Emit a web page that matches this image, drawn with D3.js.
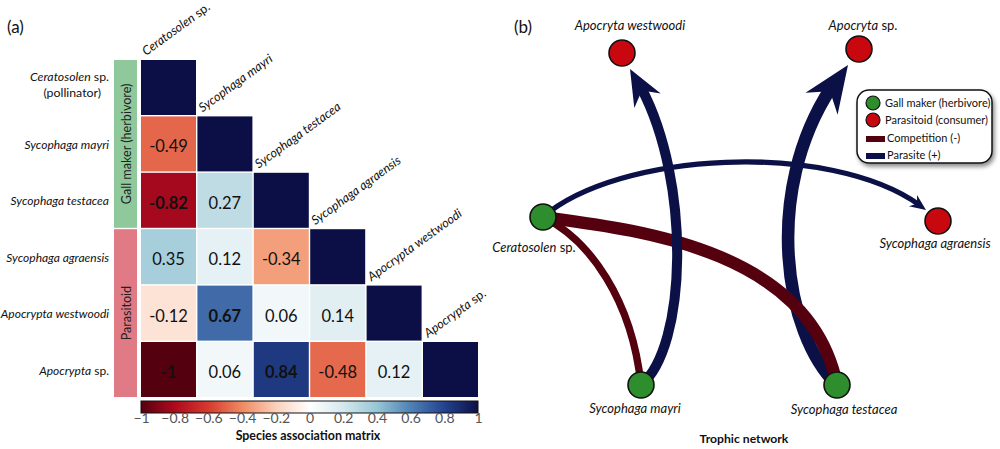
<!DOCTYPE html>
<html>
<head>
<meta charset="utf-8">
<script src="https://cdn.jsdelivr.net/npm/d3@7"></script>
<style>
  html, body { margin: 0; padding: 0; background: #fff; }
  svg { display: block; font-family: Lato, "Open Sans", sans-serif; }
</style>
</head>
<body>
<svg id="chart" width="1000" height="449"></svg>
<script>
"use strict";

// ---- data ----
const rowLabels = ["Ceratosolen sp.", "Sycophaga mayri", "Sycophaga testacea",
  "Sycophaga agraensis", "Apocrypta westwoodi", "Apocrypta sp."];
const colLabels = ["Ceratosolen sp.", "Sycophaga mayri", "Sycophaga testacea",
  "Sycophaga agraensis", "Apocrypta westwoodi", "Apocrypta sp."];
// lower triangle of the association matrix (diagonal = 1)
const assocRows = [
  [],
  [-0.49],
  [-0.82, 0.27],
  [0.35, 0.12, -0.34],
  [-0.12, 0.67, 0.06, 0.14],
  [-1, 0.06, 0.84, -0.48, 0.12]
];
const boldCells = [[2, 0], [4, 1], [5, 0], [5, 2]];
const groups = ["Gall maker (herbivore)", "Parasitoid"];
const groupRows = [[0, 2], [3, 5]];
const colorStops = [-1, -0.8, -0.6, -0.4, -0.2, 0, 0.2, 0.4, 0.6, 0.8, 1];
const colorRamp = ["#55000f", "#ad0a1e", "#d63a2e", "#ef8a62", "#fbd0ba", "#ffffff",
  "#d4e8ee", "#97c6d5", "#4f81b5", "#24438f", "#0b0f46"];
const cbTicks = [-1, -0.8, -0.6, -0.4, -0.2, 0, 0.2, 0.4, 0.6, 0.8, 1];

const netNodes = ["Apocryta westwoodi", "Apocryta sp.", "Ceratosolen sp.",
  "Sycophaga agraensis", "Sycophaga mayri", "Sycophaga testacea"];
const netNodeType = ["parasitoid", "parasitoid", "gall", "parasitoid", "gall", "gall"];
const edgeSource = ["Sycophaga testacea", "Ceratosolen sp.", "Ceratosolen sp.", "Sycophaga mayri", "Ceratosolen sp."];
const edgeTarget = ["Apocryta sp.", "Sycophaga testacea", "Sycophaga mayri", "Apocryta westwoodi", "Sycophaga agraensis"];
const edgeValue = [0.84, -0.82, -0.49, 0.67, 0.35];
const legendLabels = ["Gall maker (herbivore)", "Parasitoid (consumer)", "Competition (-)", "Parasite (+)"];

// ---- styles / layout ----
const NAVY = "#0b1146", MAROON = "#55000f", GREEN = "#2e8e2e", RED = "#c8070f";
const FS = 12; // species label size
const svg = d3.select("#chart");

function speciesText(sel, label) {
  // genus/species italic, "sp." upright
  if (label.endsWith(" sp.")) {
    sel.append("tspan").attr("font-style", "italic").text(label.slice(0, -4));
    sel.append("tspan").text(" sp.");
  } else {
    sel.append("tspan").attr("font-style", "italic").text(label);
  }
}

// ================= panel (a) =================
svg.append("text").attr("x", 7).attr("y", 33).attr("font-size", 17).attr("fill", "#111").text("(a)");

const x = d3.scaleBand().domain(d3.range(6)).range([141, 478]).paddingInner(0.025);
const y = d3.scaleBand().domain(d3.range(6)).range([60, 397]).paddingInner(0.025);
const color = d3.scaleLinear().domain(colorStops).range(colorRamp).interpolate(d3.interpolateRgb);

const cells = [];
assocRows.forEach((row, i) => {
  row.forEach((v, j) => cells.push({i, j, v, diag: false}));
  cells.push({i, j: i, v: 1, diag: true});
});
const isBold = d => boldCells.some(b => b[0] === d.i && b[1] === d.j);

const gm = svg.append("g");
gm.selectAll("rect.cell").data(cells).enter().append("rect")
  .attr("class", "cell")
  .attr("x", d => x(d.j)).attr("y", d => y(d.i))
  .attr("width", x.bandwidth()).attr("height", y.bandwidth())
  .attr("fill", d => color(d.v));

gm.selectAll("text.val").data(cells.filter(d => !d.diag)).enter().append("text")
  .attr("class", "val")
  .attr("x", d => x(d.j) + x.bandwidth() / 2)
  .attr("y", d => y(d.i) + y.bandwidth() / 2 + 8.5)
  .attr("text-anchor", "middle")
  .attr("font-size", 16.5)
  .attr("font-weight", d => isBold(d) ? "bold" : "normal")
  .attr("fill", "#111")
  .text(d => String(d.v));

// row labels
const rowX = 109;
rowLabels.forEach((lab, i) => {
  const cy = y(i) + y.bandwidth() / 2;
  if (i === 0) {
    const t = gm.append("text").attr("x", rowX).attr("y", cy - 6).attr("text-anchor", "end")
      .attr("font-size", FS + 0.3).attr("fill", "#111");
    speciesText(t, lab);
    gm.append("text").attr("x", rowX - 8).attr("y", cy + 10).attr("text-anchor", "end")
      .attr("font-size", FS + 0.3).attr("fill", "#111").text("(pollinator)");
  } else {
    const t = gm.append("text").attr("x", rowX).attr("y", cy + 5).attr("text-anchor", "end")
      .attr("font-size", FS).attr("fill", "#111");
    speciesText(t, lab);
  }
});

// column labels, rotated above the diagonal
colLabels.forEach((lab, j) => {
  const t = gm.append("text")
    .attr("transform", `translate(${x(j) + 5},${y(j) - 4}) rotate(-36)`)
    .attr("font-size", FS + 0.5).attr("fill", "#111");
  speciesText(t, lab);
});

// group bars
const groupFill = ["#8fc89a", "#e07b85"];
groups.forEach((g, k) => {
  const y0 = y(groupRows[k][0]), y1 = y(groupRows[k][1]) + y.bandwidth();
  gm.append("rect").attr("x", 114).attr("y", y0).attr("width", 23).attr("height", y1 - y0)
    .attr("fill", groupFill[k]);
  gm.append("text")
    .attr("transform", `translate(130.5,${(y0 + y1) / 2}) rotate(-90)`)
    .attr("text-anchor", "middle").attr("font-size", 12.6).attr("fill", "#222").text(g);
});

// colour bar
const cb = d3.scaleLinear().domain([-1, 1]).range([141, 478]);
const grad = svg.append("defs").append("linearGradient").attr("id", "cbgrad");
colorStops.forEach((s, k) => grad.append("stop")
  .attr("offset", (s + 1) / 2).attr("stop-color", colorRamp[k]));
svg.append("rect").attr("x", 141).attr("y", 401).attr("width", 337).attr("height", 12)
  .attr("fill", "url(#cbgrad)").attr("stroke", "#111").attr("stroke-width", 1);
const cbAxis = svg.append("g").attr("transform", "translate(0,408)")
  .call(d3.axisBottom(cb).tickValues(cbTicks).tickSize(0).tickPadding(5).tickFormat(d3.format("")));
cbAxis.select(".domain").remove();
cbAxis.selectAll("text").attr("font-size", 14).attr("fill", "#555")
  .attr("font-family", "Lato, sans-serif");
svg.append("text").attr("x", 308).attr("y", 440).attr("text-anchor", "middle")
  .attr("font-size", 12.4).attr("font-weight", "bold").attr("fill", "#111")
  .text("Species association matrix");

// ================= panel (b) =================
svg.append("text").attr("x", 514).attr("y", 33).attr("font-size", 17).attr("fill", "#111").text("(b)");

// node placement and label anchors
const nodeLayout = {
  "Apocryta westwoodi": {x: 622, y: 53, lx: 630, ly: 30},
  "Apocryta sp.": {x: 859, y: 49, lx: 863, ly: 30},
  "Ceratosolen sp.": {x: 543, y: 217, lx: 534, ly: 252},
  "Sycophaga agraensis": {x: 938, y: 221, lx: 935, ly: 248},
  "Sycophaga mayri": {x: 641, y: 385, lx: 635, ly: 413},
  "Sycophaga testacea": {x: 837, y: 385, lx: 844, ly: 414}
};
// cubic control points and arrow tip for each edge (same order as the edge arrays)
const edgeShape = [
  {c1: [780, 330], c2: [760, 170], end: [848, 65]},
  {c1: [640, 230], c2: [810, 250], end: [837, 385]},
  {c1: [590, 240], c2: [632, 300], end: [641, 385]},
  {c1: [690, 345], c2: [692, 160], end: [630, 69]},
  {c1: [620, 150], c2: [840, 140], end: [926, 210]}
];

const width = d3.scaleLinear().domain([0, 1]).range([0, 15]);
const lerp = (a, b, t) => [a[0] + (b[0] - a[0]) * t, a[1] + (b[1] - a[1]) * t];
function bez(p, t) {
  const a = lerp(p[0], p[1], t), b = lerp(p[1], p[2], t), c = lerp(p[2], p[3], t);
  const d = lerp(a, b, t), e = lerp(b, c, t);
  return {pt: lerp(d, e, t), first: [p[0], a, d, lerp(d, e, t)]};
}
function tAtDist(p, dist) {
  const tip = p[3];
  for (let t = 1; t > 0; t -= 0.002) {
    const q = bez(p, t).pt;
    if (Math.hypot(q[0] - tip[0], q[1] - tip[1]) >= dist) return t;
  }
  return 0;
}
function curve(seg) {
  const path = d3.path();
  path.moveTo(seg[0][0], seg[0][1]);
  path.bezierCurveTo(seg[1][0], seg[1][1], seg[2][0], seg[2][1], seg[3][0], seg[3][1]);
  return path.toString();
}

const gn = svg.append("g");
edgeValue.forEach((v, k) => {
  const s = nodeLayout[edgeSource[k]], sh = edgeShape[k];
  const p = [[s.x, s.y], sh.c1, sh.c2, sh.end];
  const w = width(Math.abs(v));
  const col = v < 0 ? MAROON : NAVY;
  if (v > 0) {
    const L = 4.2 * w - 6, Wd = 3.4 * w - 4;
    const tN = tAtDist(p, 0.68 * L);
    const seg = bez(p, Math.min(1, tN + 0.01)).first;
    const base = bez(p, tAtDist(p, L)).pt, tip = p[3];
    const len = Math.hypot(tip[0] - base[0], tip[1] - base[1]);
    const u = [(tip[0] - base[0]) / len, (tip[1] - base[1]) / len], n = [-u[1], u[0]];
    const pts = [
      tip,
      [tip[0] - u[0] * L + n[0] * Wd / 2, tip[1] - u[1] * L + n[1] * Wd / 2],
      [tip[0] - u[0] * 0.68 * L, tip[1] - u[1] * 0.68 * L],
      [tip[0] - u[0] * L - n[0] * Wd / 2, tip[1] - u[1] * L - n[1] * Wd / 2]
    ];
    gn.append("path").attr("d", curve(seg)).attr("fill", "none")
      .attr("stroke", col).attr("stroke-width", w);
    gn.append("polygon").attr("points", pts.map(q => q.join(",")).join(" ")).attr("fill", col);
  } else {
    gn.append("path").attr("d", curve(p)).attr("fill", "none")
      .attr("stroke", col).attr("stroke-width", w);
  }
});

gn.selectAll("circle.node").data(netNodes).enter().append("circle")
  .attr("class", "node")
  .attr("cx", d => nodeLayout[d].x).attr("cy", d => nodeLayout[d].y).attr("r", 13)
  .attr("fill", (d, i) => netNodeType[i] === "gall" ? GREEN : RED)
  .attr("stroke", "#111").attr("stroke-width", 1.6);

netNodes.forEach(name => {
  const L = nodeLayout[name];
  const t = gn.append("text").attr("x", L.lx).attr("y", L.ly).attr("text-anchor", "middle")
    .attr("font-size", 13).attr("fill", "#111");
  speciesText(t, name);
});

svg.append("text").attr("x", 744).attr("y", 443).attr("text-anchor", "middle")
  .attr("font-size", 12.2).attr("font-weight", "bold").attr("fill", "#111").text("Trophic network");

// legend
const defs = svg.select("defs");
const f = defs.append("filter").attr("id", "shadow").attr("x", "-10%").attr("y", "-10%")
  .attr("width", "130%").attr("height", "140%");
f.append("feDropShadow").attr("dx", 2).attr("dy", 3).attr("stdDeviation", 2)
  .attr("flood-color", "#000").attr("flood-opacity", 0.45);
const gl = svg.append("g");
gl.append("rect").attr("x", 857).attr("y", 90).attr("width", 135).attr("height", 73)
  .attr("rx", 12).attr("fill", "#fff").attr("stroke", "#111").attr("stroke-width", 1.5)
  .attr("filter", "url(#shadow)");
const legY = [107, 124, 142, 159];
legendLabels.forEach((lab, k) => {
  if (k < 2) {
    gl.append("circle").attr("cx", 873).attr("cy", legY[k] - 4).attr("r", 7)
      .attr("fill", k === 0 ? GREEN : RED).attr("stroke", "#111").attr("stroke-width", 1.2);
  } else {
    gl.append("rect").attr("x", 866).attr("y", legY[k] - 6).attr("width", 19).attr("height", 6)
      .attr("fill", k === 2 ? MAROON : NAVY);
  }
  gl.append("text").attr("x", k < 2 ? 885 : 887).attr("y", legY[k])
    .attr("font-size", 11).attr("fill", "#111").text(lab);
});
</script>
</body>
</html>
